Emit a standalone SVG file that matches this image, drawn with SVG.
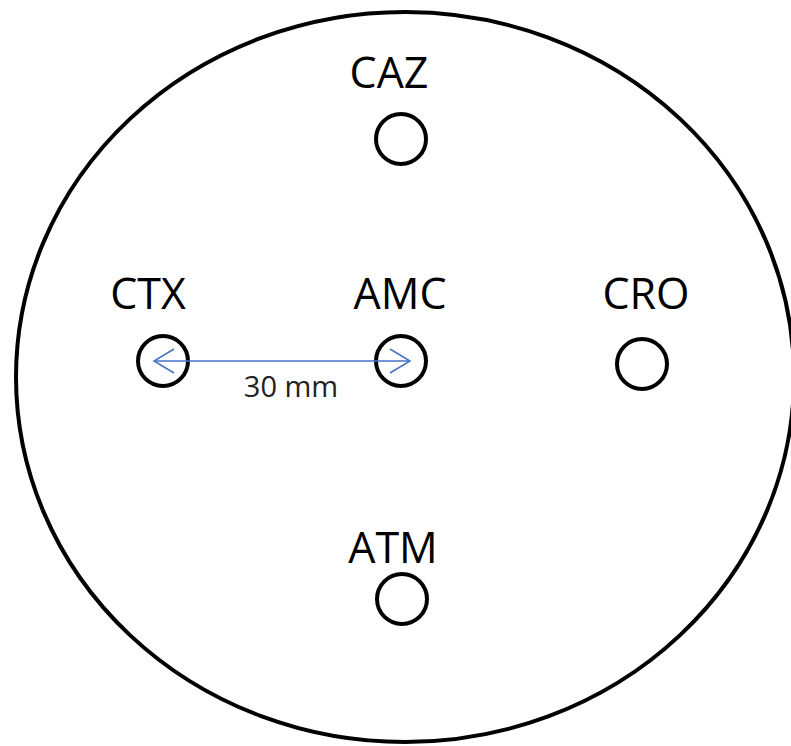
<svg xmlns="http://www.w3.org/2000/svg" width="791" height="746" viewBox="0 0 791 746">
<style>
.hole{fill:none;stroke:#000;stroke-width:4}
.lbl{font-family:"Open Sans","Liberation Sans",sans-serif;font-size:43px;fill:#000;text-anchor:middle}
.dim{font-family:"Open Sans","Liberation Sans",sans-serif;font-size:29px;fill:#222;text-anchor:middle}
</style>
<defs>
<marker id="arr" markerWidth="24" markerHeight="26" refX="21" refY="13" orient="auto-start-reverse" markerUnits="userSpaceOnUse">
<path d="M1,1 L21,13 L1,25" fill="none" stroke="#4472C4" stroke-width="1.5"/>
</marker>
</defs>
<rect width="791" height="746" fill="#fff"/>
<ellipse id="plate" cx="405" cy="377" rx="389" ry="365" fill="none" stroke="#000" stroke-width="4"/>
<g id="CAZ"><text class="lbl" x="389" y="88">CAZ</text><circle class="hole" cx="401" cy="139" r="25"/></g>
<g id="CTX"><text class="lbl" x="148" y="309">CTX</text><circle class="hole" cx="163" cy="361" r="25"/></g>
<g id="AMC"><text class="lbl" x="400" y="309">AMC</text><circle class="hole" cx="401" cy="361" r="25"/></g>
<g id="CRO"><text class="lbl" x="646" y="309">CRO</text><circle class="hole" cx="642" cy="364" r="25"/></g>
<g id="ATM"><text class="lbl" x="393" y="563">ATM</text><circle class="hole" cx="402" cy="599" r="25"/></g>
<g id="connectors">
<line x1="154" y1="361" x2="410" y2="361" stroke="#4472C4" stroke-width="1.5" marker-start="url(#arr)" marker-end="url(#arr)"/>
<text class="dim" x="291" y="397">30 mm</text>
</g>
</svg>
